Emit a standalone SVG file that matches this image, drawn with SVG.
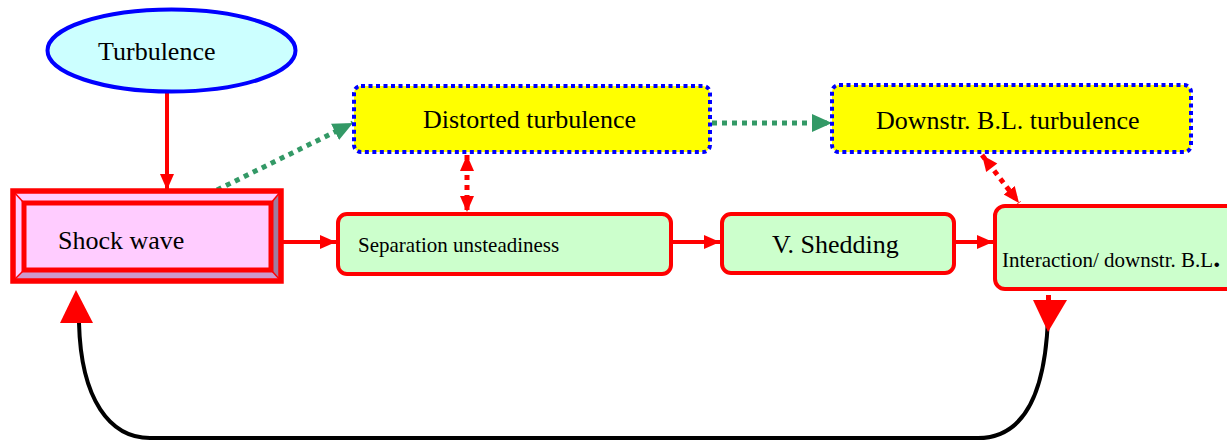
<svg xmlns="http://www.w3.org/2000/svg" width="1227" height="442" viewBox="0 0 1227 442">
<style>
text{font-family:"Liberation Serif","Times New Roman",serif;fill:#000}
.big{font-size:26px}
.small{font-size:21px}
.green{fill:#ccffcc;stroke:#ff0000;stroke-width:4}
.yellow{fill:#ffff00;stroke:#0000ff;stroke-width:4;stroke-dasharray:4 3.5}
.red{stroke:#ff0000;stroke-width:4;fill:none}
.reddot{stroke:#ff0000;stroke-width:5;fill:none;stroke-dasharray:5 5}
.gdot{stroke:#339966;stroke-width:5;fill:none;stroke-dasharray:5 5}
</style>
<defs>
<marker id="ar" markerUnits="userSpaceOnUse" markerWidth="18" markerHeight="16" refX="16" refY="8" orient="auto"><path d="M0,1 L16,8 L0,15 Z" fill="#ff0000"/></marker>
<marker id="ars" markerUnits="userSpaceOnUse" markerWidth="18" markerHeight="16" refX="0" refY="8" orient="auto"><path d="M16,1 L0,8 L16,15 Z" fill="#ff0000"/></marker>
<marker id="ag" markerUnits="userSpaceOnUse" markerWidth="22" markerHeight="20" refX="20" refY="10" orient="auto"><path d="M0,1 L20,10 L0,19 Z" fill="#339966"/></marker>
</defs>
<g id="connectors">
<line class="red" x1="167" y1="93" x2="167" y2="190" marker-end="url(#ar)"/>
<line class="red" x1="283" y1="242" x2="336" y2="242" marker-end="url(#ar)"/>
<line class="red" x1="673" y1="242" x2="720" y2="242" marker-end="url(#ar)"/>
<line class="red" x1="956" y1="242" x2="993" y2="242" marker-end="url(#ar)"/>
<line class="gdot" x1="217" y1="190" x2="353" y2="123" marker-end="url(#ag)"/>
<line class="gdot" x1="712" y1="123" x2="832" y2="123" marker-end="url(#ag)"/>
<line class="reddot" x1="467" y1="155" x2="467" y2="212" marker-start="url(#ars)" marker-end="url(#ar)"/>
<line class="reddot" x1="982" y1="155" x2="1019" y2="203" marker-start="url(#ars)" marker-end="url(#ar)"/>
<path d="M79,323 C81,400 110,438 150,438 L978,438 C1020,438 1045,400 1048,318" fill="none" stroke="#000" stroke-width="4"/>
<rect x="1046" y="295" width="5" height="6" fill="#ff0000"/>
<path d="M76,290 L60,323 L93,323 Z" fill="#ff0000"/>
<path d="M1033,300 L1067,300 L1048,332 Z" fill="#ff0000"/>
</g>
<g id="turbulence">
<ellipse cx="171.5" cy="50.5" rx="124" ry="41" fill="#ccffff" stroke="#0000ff" stroke-width="4"/>
<text class="big" x="98" y="60">Turbulence</text>
</g>
<g id="shock-wave">
<rect x="13" y="191" width="268" height="90" fill="#ffccff"/>
<polygon points="281,191 271,203 271,270 281,281" fill="#9e7c9e"/>
<polygon points="13,281 24,270 271,270 281,281" fill="#cc99cc"/>
<line x1="13" y1="191" x2="24" y2="203" stroke="#ff0000" stroke-width="1.5"/>
<line x1="281" y1="191" x2="271" y2="203" stroke="#ff0000" stroke-width="1.5"/>
<line x1="13" y1="281" x2="24" y2="270" stroke="#ff0000" stroke-width="1.5"/>
<line x1="281" y1="281" x2="271" y2="270" stroke="#ff0000" stroke-width="1.5"/>
<rect x="13" y="191" width="268" height="90" fill="none" stroke="#ff0000" stroke-width="5.5"/>
<rect x="24" y="203" width="247" height="67" fill="#ffccff" stroke="#ff0000" stroke-width="5"/>
<text class="big" x="58" y="249">Shock wave</text>
</g>
<g id="distorted-turbulence">
<rect class="yellow" x="354" y="86" width="356" height="66" rx="7"/>
<text class="big" x="423" y="128">Distorted turbulence</text>
</g>
<g id="downstr-bl-turbulence">
<rect class="yellow" x="832" y="85" width="359" height="67" rx="7"/>
<text class="big" x="876" y="129">Downstr. B.L. turbulence</text>
</g>
<g id="separation-unsteadiness">
<rect class="green" x="338" y="214" width="333" height="60" rx="9"/>
<text class="small" x="358" y="252">Separation unsteadiness</text>
</g>
<g id="v-shedding">
<rect class="green" x="722" y="214" width="232" height="59" rx="9"/>
<text class="big" x="772" y="253">V. Shedding</text>
</g>
<g id="interaction">
<rect class="green" x="995" y="206" width="260" height="83" rx="10"/>
<text class="small" x="1002" y="267">Interaction/ downstr. B.L<tspan font-weight="bold" font-size="28">.</tspan></text>
</g>
</svg>
